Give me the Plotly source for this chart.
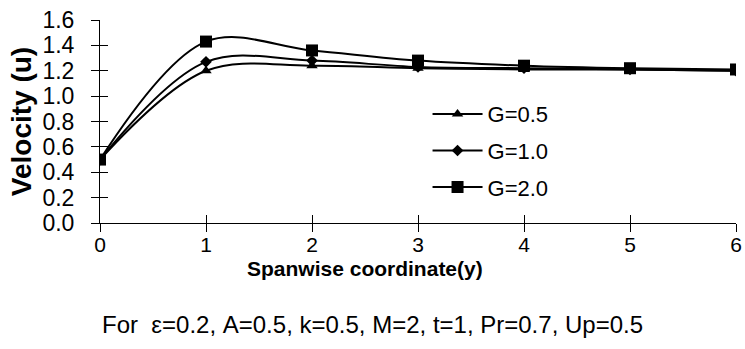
import plotly.graph_objects as go

y_coord = [0, 1, 2, 3, 4, 5, 6]
g05 = [0.50, 1.20, 1.24, 1.22, 1.21, 1.21, 1.20]
g10 = [0.50, 1.27, 1.28, 1.23, 1.22, 1.21, 1.20]
g20 = [0.50, 1.43, 1.36, 1.28, 1.24, 1.22, 1.21]
names = ["G=0.5", "G=1.0", "G=2.0"]
symbols = ["triangle-up", "diamond", "square"]
sizes = [10, 9, 12]
series = [g05, g10, g20]

font = "Liberation Sans, Arial, sans-serif"
fig = go.Figure()
for i, (nm, vals) in enumerate(zip(names, series)):
    fig.add_trace(go.Scatter(
        x=y_coord, y=vals, name=nm, mode="lines+markers",
        line=dict(color="black", width=2, shape="spline", smoothing=1),
        marker=dict(symbol=symbols[i], size=sizes[i], color="black"),
        legendgroup=nm,
    ))

fig.update_layout(
    width=745, height=349,
    margin=dict(l=100, r=9, t=20, b=126),
    paper_bgcolor="white", plot_bgcolor="white",
    font=dict(family=font, color="black"),
    showlegend=True,
    legend=dict(x=0.515, y=0.64, xanchor="left", yanchor="top",
                font=dict(size=22, family=font), tracegroupgap=5, itemwidth=50,
                bgcolor="rgba(0,0,0,0)"),
    xaxis=dict(range=[0, 6], tickvals=y_coord, ticks="outside", ticklen=8,
               tickcolor="black", showline=True, linecolor="black", linewidth=1,
               showgrid=False, zeroline=False, tickfont=dict(size=21),
               ticklabelstandoff=-5, automargin=False),
    yaxis=dict(range=[0, 1.6], dtick=0.2, tickformat=".1f", ticks="outside", ticklen=8,
               tickcolor="black", showline=True, linecolor="black", linewidth=1,
               showgrid=False, zeroline=False, tickfont=dict(size=23),
               ticklabelstandoff=12, automargin=False,
               title=dict(text="<b>Velocity (u)</b>", font=dict(size=28), standoff=2)),
    xaxis2=dict(range=[0, 6], tickvals=y_coord, ticks="inside", ticklen=8, tickcolor="black",
                overlaying="x", showticklabels=False, showgrid=False, zeroline=False),
    yaxis2=dict(range=[0, 1.6], dtick=0.2, ticks="inside", ticklen=8, tickcolor="black",
                overlaying="y", showticklabels=False, showgrid=False, zeroline=False),
)
fig.add_trace(go.Scatter(x=[None], y=[None], xaxis="x2", yaxis="y2", showlegend=False))
fig.add_annotation(text="<b>Spanwise coordinate(y)</b>",
                   xref="paper", yref="paper", x=0.417, y=-0.225, xanchor="center", yanchor="middle",
                   showarrow=False, font=dict(size=21, family=font))
fig.add_annotation(text="For  ε=0.2, A=0.5, k=0.5, M=2, t=1, Pr=0.7, Up=0.5",
                   xref="paper", yref="paper", x=0.428, y=-0.502, xanchor="center", yanchor="middle",
                   showarrow=False, font=dict(size=24, family=font))
fig.write_html("out.html")
